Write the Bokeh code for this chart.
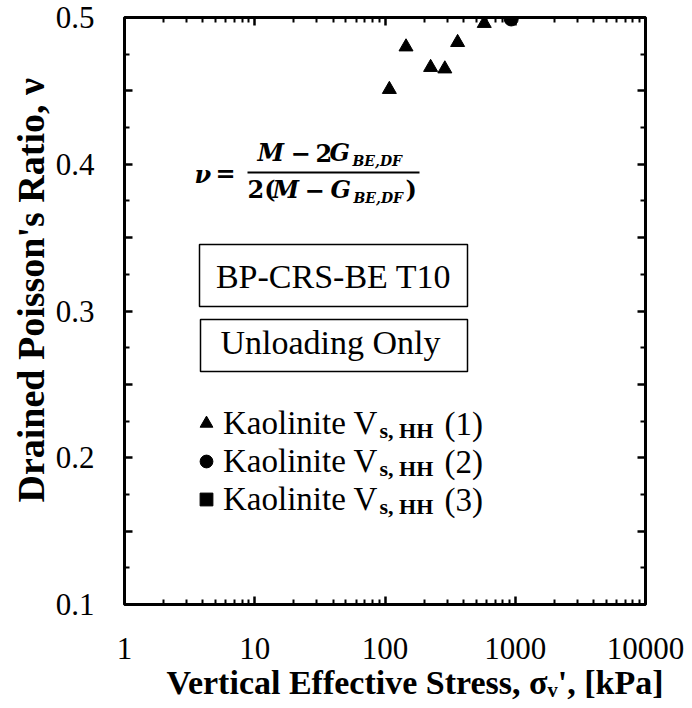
from bokeh.plotting import figure
from bokeh.models import (LogAxis, LinearAxis, FixedTicker, Label, BoxAnnotation,
                          Legend, LegendItem, Title)
from bokeh.embed import file_html
from bokeh.resources import INLINE

# ---------------- data ----------------
tri_stress = [108, 145, 224, 288, 361, 578]          # kPa, series (1)
tri_nu = [0.451, 0.480, 0.466, 0.465, 0.483, 0.496]
circ_stress = [931]                                   # series (2)
circ_nu = [0.499]
sq_stress = [float("nan")]                            # series (3): no visible point
sq_nu = [float("nan")]

x_major = [1, 10, 100, 1000, 10000]
x_tick_labels = ["1", "10", "100", "1000", "10000"]
x_minor = [m * d for d in (1, 10, 100, 1000) for m in range(2, 10)]

y_major = [0.1, 0.15, 0.2, 0.25, 0.3, 0.35, 0.4, 0.45, 0.5]
y_tick_labels = ["0.1", "", "0.2", "", "0.3", "", "0.4", "", "0.5"]
y_minor = [0.125, 0.175, 0.225, 0.275, 0.325, 0.375, 0.425, 0.475]

series_names = ["Kaolinite V", "Kaolinite V", "Kaolinite V"]
series_subs = ["s, HH", "s, HH", "s, HH"]
series_tags = ["(1)", "(2)", "(3)"]

x_title = "Vertical Effective Stress, σᵥ', [kPa]"
y_title = "Drained Poisson's Ratio, ν"

# ---------------- layout helpers (canvas px -> frame-relative px) ----------------
W, H = 684, 700
FL, FT, FR, FB = 124, 17, 645, 604   # frame edges in canvas px


def rx(px):
    return px - FL


def ry(py):
    return FB - py


SERIF = "Liberation Serif"
MATH = "DejaVu Serif"

p = figure(width=W, height=H, x_axis_type="log", x_range=(1, 10000), y_range=(0.1, 0.5),
           output_backend="svg", toolbar_location=None,
           min_border_left=FL, min_border_right=W - FR, min_border_top=FT,
           min_border_bottom=H - FB)
p.grid.visible = False
p.background_fill_color = "white"
p.border_fill_color = "white"
p.outline_line_color = "black"
p.outline_line_width = 3
p.outline_line_alpha = 1.0


def style_axis(ax, labels=True):
    ax.axis_line_color = None
    ax.major_tick_in = 8
    ax.major_tick_out = 0
    ax.minor_tick_in = 5
    ax.minor_tick_out = 0
    ax.major_tick_line_color = "black"
    ax.minor_tick_line_color = "black"
    ax.major_tick_line_width = 2.5
    ax.minor_tick_line_width = 2
    if labels:
        ax.major_label_text_font = SERIF
        ax.major_label_text_font_size = "31px"
        ax.major_label_text_color = "black"
    else:
        ax.major_label_text_font_size = "2px"
        ax.major_label_text_color = None
        ax.major_label_standoff = 0


xt = FixedTicker(ticks=x_major, minor_ticks=x_minor)
yt = FixedTicker(ticks=y_major, minor_ticks=y_minor)

xa = p.xaxis[0]
xa.ticker = xt
xa.major_label_overrides = dict(zip(x_major, x_tick_labels))
style_axis(xa)
xa.major_label_standoff = 33

ya = p.yaxis[0]
ya.ticker = yt
ya.major_label_overrides = dict(zip(y_major, y_tick_labels))
style_axis(ya)
ya.major_label_standoff = 30

top_ax = LogAxis(ticker=xt)
top_ax.major_label_overrides = dict(zip(x_major, ["" for _ in x_major]))
style_axis(top_ax, labels=False)
p.add_layout(top_ax, "above")

right_ax = LinearAxis(ticker=yt)
right_ax.major_label_overrides = dict(zip(y_major, ["" for _ in y_major]))
style_axis(right_ax, labels=False)
p.add_layout(right_ax, "right")

# axis titles (as plot titles on the sides so they are not clipped)
p.add_layout(Title(text=x_title, align="left", offset=42, standoff=0,
                   text_font=SERIF, text_font_style="bold", text_font_size="34px",
                   text_color="black"), "below")
p.add_layout(Title(text=y_title, align="left", offset=102, standoff=2,
                   text_font=SERIF, text_font_style="bold", text_font_size="38px",
                   text_color="black"), "left")

# ---------------- data markers ----------------
r_tri = p.scatter(tri_stress, tri_nu, marker="triangle", size=14, color="black")
r_circ = p.scatter(circ_stress, circ_nu, marker="circle", size=14, color="black")
r_sq = p.scatter(sq_stress, sq_nu, marker="square", size=12, color="black")


def lab(text, x, y, size, font=SERIF, style="normal", align="left"):
    # y is the vertical middle of the text line, in canvas px
    p.add_layout(Label(x=rx(x), y=ry(y), x_units="screen", y_units="screen", text=text,
                       text_font=font, text_font_style=style, text_font_size=f"{size}px",
                       text_color="black", text_align=align, text_baseline="middle"))


def box(l, r, t, b, **kw):
    p.add_layout(BoxAnnotation(left=rx(l), right=rx(r), top=ry(t), bottom=ry(b),
                               left_units="screen", right_units="screen",
                               top_units="screen", bottom_units="screen", **kw))


# ---------------- formula ----------------
lab("ν", 194, 174, 24, font=MATH, style="bold italic")
lab("=", 215, 173, 24, font=MATH, style="bold")
lab("M", 257, 152, 24, font=MATH, style="bold italic")
lab("−", 290, 152, 24, font=MATH, style="bold")
lab("2", 315, 152, 24, font=MATH, style="bold")
lab("G", 329, 152, 24, font=MATH, style="bold italic")
lab("BE,DF", 352, 160, 14, font=MATH, style="bold italic")
lab("2(", 247, 189, 24, font=MATH, style="bold")
lab("M", 272, 189, 24, font=MATH, style="bold italic")
lab("−", 304, 189, 24, font=MATH, style="bold")
lab("G", 330, 189, 24, font=MATH, style="bold italic")
lab("BE,DF", 353, 197, 14, font=MATH, style="bold italic")
lab(")", 405, 189, 24, font=MATH, style="bold")
box(247, 419, 171, 173, fill_color="black", fill_alpha=1, line_color=None)

# ---------------- text boxes ----------------
box(199, 467, 244, 306, fill_color=None, fill_alpha=0, line_color="black",
    line_alpha=1, line_width=1.5)
box(200, 467, 319, 371, fill_color=None, fill_alpha=0, line_color="black",
    line_alpha=1, line_width=1.5)
lab("BP-CRS-BE T10", 333, 276, 34, align="center")
lab("Unloading Only", 330, 342, 34, align="center")

# ---------------- legend ----------------
rows_y = [423, 461, 499]
legend = Legend(items=[LegendItem(label=n, renderers=[r]) for n, r in
                       zip(series_names, [r_tri, r_circ, r_sq])],
                location=(rx(190), ry(rows_y[-1] + 19)),
                glyph_width=32, glyph_height=38, label_height=38, spacing=0,
                label_standoff=1, padding=0, margin=0,
                label_text_font=SERIF, label_text_font_size="33px",
                label_text_color="black", label_text_baseline="middle",
                border_line_color=None, background_fill_alpha=0)
p.add_layout(legend)
for yc, sub, tag in zip(rows_y, series_subs, series_tags):
    lab(sub, 379, yc + 7, 22, style="bold")
    lab(tag, 444, yc, 33)

open("out.html", "w").write(file_html(p, INLINE))
